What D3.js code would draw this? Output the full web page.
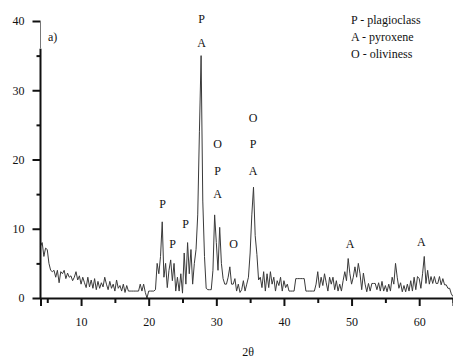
<!DOCTYPE html>
<html>
<head>
<meta charset="utf-8">
<script src="https://cdn.jsdelivr.net/npm/d3@7/dist/d3.min.js"></script>
<style>
  body { margin: 0; background: #fff; }
  svg text { font-family: "Times New Roman", Times, "Liberation Serif", serif; fill: #111; }
</style>
</head>
<body>
<div class="chart-container"></div>
<script>
// scan grid: 2theta from 4 to 65 deg, 0.25 deg step
var scanStart = 4, scanStep = 0.25;

// intensities, one per step
var intensity = [
  7.5, 8.0, 6.0, 7.2, 7.0, 5.0, 4.0, 3.8, 4.0,            // 4.0 - 6.0
  3.0, 4.0, 2.2, 3.8, 3.5, 4.0, 2.8, 3.6,                 // 6.25 - 8.0
  3.0, 3.2, 2.5, 3.0, 3.8, 2.6, 3.2, 2.0,                 // 8.25 - 10.0
  3.0, 2.2, 1.5, 3.0, 1.6, 2.6, 1.4, 2.8,                 // 10.25 - 12.0
  1.2, 2.4, 1.4, 2.2, 1.6, 3.0, 2.0, 1.2,                 // 12.25 - 14.0
  2.4, 1.4, 2.0, 1.0, 2.6, 1.4, 1.8, 1.0,                 // 14.25 - 16.0
  2.0, 0.8, 1.8, 1.0, 1.0, 1.0, 1.0, 1.0,                 // 16.25 - 18.0
  1.0, 1.0, 2.0, 1.0, 2.0, 0.8, 0.0, 1.0,                 // 18.25 - 20.0
  1.0, 1.0, 1.0, 1.2, 5.0, 3.5, 6.0, 11.0,                // 20.25 - 22.0
  3.0, 5.0, 1.5, 4.0, 5.5, 2.5, 5.0, 1.0,                 // 22.25 - 24.0
  3.0, 1.0, 3.5, 0.7, 6.5, 2.0, 8.0, 3.5,                 // 24.25 - 26.0
  7.0, 2.0, 5.0, 7.0, 12.0, 24.0, 35.0, 14.0,             // 26.25 - 28.0
  6.0, 1.4, 1.2, 1.2, 1.2, 4.0, 12.0, 8.0,                // 28.25 - 30.0
  4.0, 10.2, 5.0, 2.8, 2.0, 2.0, 3.0, 4.5,                // 30.25 - 32.0
  2.0, 2.0, 2.8, 1.0, 2.0, 0.8, 1.2, 2.5,                 // 32.25 - 34.0
  1.0, 2.0, 3.0, 6.5, 12.0, 16.0, 9.0, 6.3,               // 34.25 - 36.0
  2.6, 3.0, 1.5, 3.8, 1.0, 3.5, 1.5, 3.8,                 // 36.25 - 38.0
  2.0, 3.0, 1.0, 2.5, 1.8, 3.0, 1.0, 2.5,                 // 38.25 - 40.0
  1.5, 2.0, 1.0, 1.0, 1.0, 1.0, 2.8, 2.8,                 // 40.25 - 42.0
  2.8, 2.8, 2.8, 2.8, 1.0, 1.0, 1.0, 1.0,                 // 42.25 - 44.0
  1.0, 1.0, 2.0, 3.8, 1.5, 3.0, 1.8, 3.5,                 // 44.25 - 46.0
  2.2, 1.0, 3.0, 2.0, 3.0, 1.2, 2.5, 1.0,                 // 46.25 - 48.0
  2.0, 1.0, 2.5, 3.8, 2.5, 5.7, 3.5, 2.0,                 // 48.25 - 50.0
  3.0, 4.5, 3.0, 5.0, 3.5, 1.2, 3.6, 2.0,                 // 50.25 - 52.0
  0.9, 2.1, 1.0, 2.1, 2.1, 2.1, 1.2, 2.2,                 // 52.25 - 54.0
  1.0, 2.4, 1.0, 1.8, 0.9, 2.0, 1.0, 3.0,                 // 54.25 - 56.0
  2.0, 5.0, 3.0, 1.4, 2.2, 0.9, 1.8, 0.9,                 // 56.25 - 58.0
  2.0, 1.0, 2.5, 1.0, 3.0, 1.2, 3.1, 2.8,                 // 58.25 - 60.0
  1.4, 3.5, 6.0, 2.1, 4.0, 2.0, 3.1, 2.1,                 // 60.25 - 62.0
  3.1, 2.1, 2.1, 3.1, 1.9, 2.8, 1.9, 1.9,                 // 62.25 - 64.0
  1.4, 1.4, 0.6, 0.2                                      // 64.25 - 65.0
];

var xTicks = [10, 20, 30, 40, 50, 60];
var xMinor = [5, 15, 25, 35, 45, 55, 65];
var yTicks = [0, 10, 20, 30, 40];
var yMinor = [5, 15, 25, 35];

var legendLines = ["P - plagioclass", "A - pyroxene", "O - oliviness"];

// phase marks over the peaks: text, 2theta, level (intensity units)
var peakLabels = [
  {t: "P", at: 27.83, lv: 39.7}, {t: "A", at: 27.83, lv: 36.2},
  {t: "O", at: 30.19, lv: 21.7}, {t: "P", at: 30.19, lv: 17.8}, {t: "A", at: 30.19, lv: 14.4},
  {t: "O", at: 35.44, lv: 25.4}, {t: "P", at: 35.44, lv: 21.7}, {t: "A", at: 35.44, lv: 17.8},
  {t: "P", at: 22.06, lv: 13.0},
  {t: "P", at: 23.54, lv: 7.2},
  {t: "P", at: 25.46, lv: 10.1},
  {t: "O", at: 32.56, lv: 7.2},
  {t: "A", at: 49.79, lv: 7.2},
  {t: "A", at: 60.3, lv: 7.5}
];

var w = 453, h = 360;
var fontSize = 12;
var serif = "'Times New Roman', Times, 'Liberation Serif', serif";

var pattern = intensity.map(function(v, i) {
  return {tt: scanStart + i * scanStep, v: v};
});

var x = d3.scaleLinear().domain([4, 65]).range([40.5, 453]);
var y = d3.scaleLinear().domain([0, 40]).range([298, 21]);

var svg = d3.select(".chart-container").append("svg")
  .attr("width", w)
  .attr("height", h)
  .style("font-size", fontSize + "px");

// the trace
svg.append("path")
  .datum(pattern)
  .attr("fill", "none")
  .attr("stroke", "#3a3a3a")
  .attr("stroke-width", 1)
  .attr("d", d3.line()
    .x(function(d) { return x(d.tt); })
    .y(function(d) { return y(d.v); }));

// x axis
var xAxis = svg.append("g")
  .attr("transform", "translate(0," + y(0) + ")")
  .call(d3.axisBottom(x).tickValues(xTicks).tickSize(8).tickFormat(d3.format("d")));
xAxis.attr("font-family", serif).attr("font-size", fontSize);
xAxis.select(".domain").attr("stroke-width", 2).attr("stroke", "#111");
xAxis.selectAll(".tick line").attr("stroke-width", 2).attr("stroke", "#111");
xAxis.selectAll(".tick text").attr("y", 19);

var xMinorAxis = svg.append("g")
  .attr("transform", "translate(0," + y(0) + ")")
  .call(d3.axisBottom(x).tickValues(xMinor).tickSize(5).tickFormat(""));
xMinorAxis.select(".domain").remove();
xMinorAxis.selectAll(".tick line").attr("stroke-width", 2).attr("stroke", "#111");

// y axis: line is heavy up to 36, thin above
var yAxis = svg.append("g")
  .attr("transform", "translate(" + x(4) + ",0)")
  .call(d3.axisLeft(y).tickValues(yTicks).tickSize(8));
yAxis.attr("font-family", serif).attr("font-size", fontSize);
yAxis.select(".domain").remove();
yAxis.selectAll(".tick line").attr("stroke-width", 2).attr("stroke", "#111");
yAxis.selectAll(".tick text").attr("x", -16);

var yMinorAxis = svg.append("g")
  .attr("transform", "translate(" + x(4) + ",0)")
  .call(d3.axisLeft(y).tickValues(yMinor).tickSize(4).tickFormat(""));
yMinorAxis.select(".domain").remove();
yMinorAxis.selectAll(".tick line").attr("stroke-width", 2).attr("stroke", "#111");

svg.append("line")
  .attr("x1", x(4)).attr("x2", x(4))
  .attr("y1", y(0) + 1).attr("y2", y(36))
  .attr("stroke", "#111").attr("stroke-width", 2);
svg.append("line")
  .attr("x1", x(4)).attr("x2", x(4))
  .attr("y1", y(36)).attr("y2", y(40))
  .attr("stroke", "#777").attr("stroke-width", 1);

// panel tag
svg.append("text")
  .attr("x", 48)
  .attr("y", 41)
  .text("a)");

// legend
svg.selectAll(".legend")
  .data(legendLines)
  .enter()
  .append("text")
  .attr("class", "legend")
  .attr("x", 351)
  .attr("y", function(d, i) { return 24 + i * 17; })
  .text(function(d) { return d; });

// peak labels
svg.selectAll(".peak")
  .data(peakLabels)
  .enter()
  .append("text")
  .attr("class", "peak")
  .attr("text-anchor", "middle")
  .attr("x", function(d) { return x(d.at); })
  .attr("y", function(d) { return y(d.lv); })
  .text(function(d) { return d.t; });

// axis title
svg.append("text")
  .attr("x", 248)
  .attr("y", 356)
  .attr("text-anchor", "middle")
  .text("2\u03b8");
</script>
</body>
</html>
